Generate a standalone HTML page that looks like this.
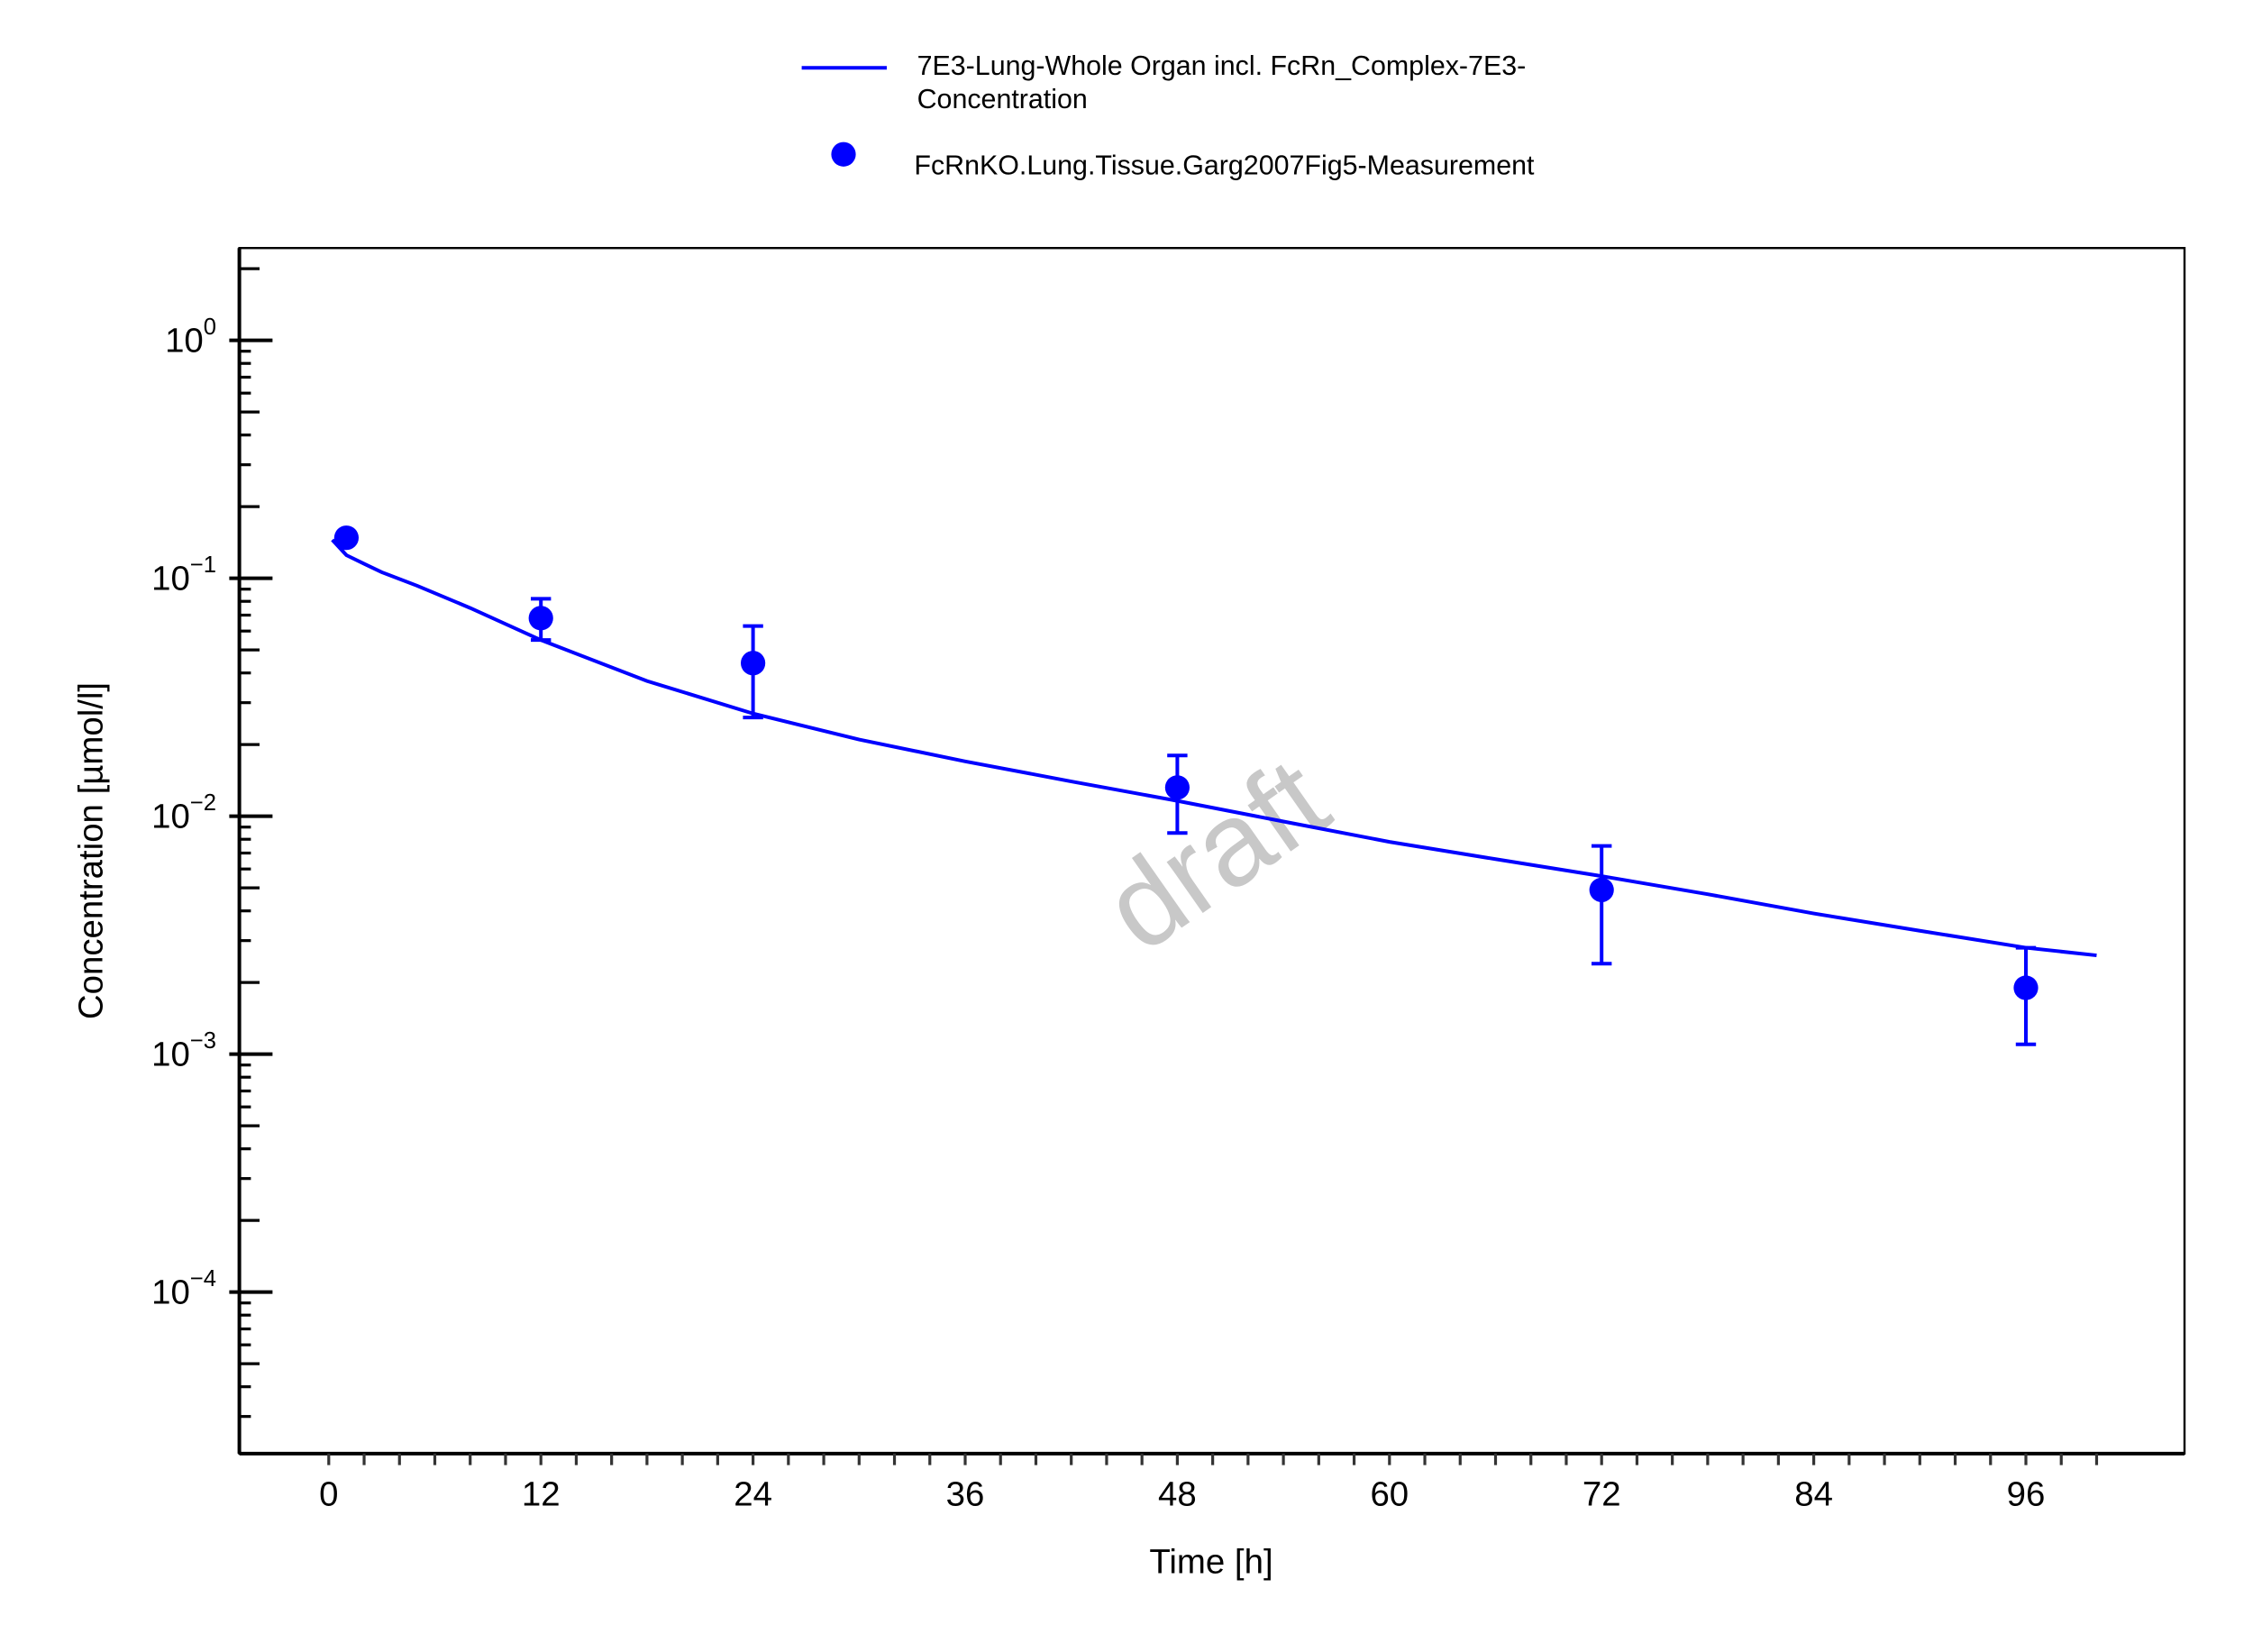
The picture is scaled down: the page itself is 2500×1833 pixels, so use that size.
<!DOCTYPE html>
<html><head><meta charset="utf-8"><style>
html,body{margin:0;padding:0;background:#fff}
svg{display:block;font-family:"Liberation Sans","DejaVu Sans",sans-serif}
</style></head><body>
<svg id="chart" width="2500" height="1833" viewBox="0 0 1562.5 1145.6" xmlns="http://www.w3.org/2000/svg">
<rect width="1562.5" height="1145.6" fill="#fff"/>
<g>
<line x1="556" y1="47" x2="615" y2="47" stroke="#0000ff" stroke-width="2.5"/>
<text x="636" y="52" font-size="19">7E3-Lung-Whole Organ incl. FcRn_Complex-7E3-</text>
<text x="636" y="75" font-size="19">Concentration</text>
<circle cx="585" cy="107" r="8.5" fill="#0000ff"/>
<text x="634" y="121" font-size="19">FcRnKO.Lung.Tissue.Garg2007Fig5-Measurement</text>
</g>
<text x="845" y="620" font-size="82" fill="#c8c8c8" text-anchor="middle" transform="rotate(-35 845 595)">draft</text>
<rect x="166" y="172" width="1349" height="836" fill="none" stroke="#000" stroke-width="1.5"/>
<line x1="166" y1="172" x2="166" y2="1008" stroke="#000" stroke-width="2.5"/>
<line x1="166" y1="1008" x2="1515" y2="1008" stroke="#000" stroke-width="2.5"/>
<g id="yticks"></g>
<g id="xticks"></g>
<g id="series"></g>
<text x="840" y="1091" font-size="24" text-anchor="middle">Time [h]</text>
<text x="0" y="0" font-size="24" text-anchor="middle" transform="translate(71 590) rotate(-90)">Concentration [µmol/l]</text>
</svg>
<script>
const simTime = [0.2,1,2,3,5,8,12,18,24,30,36,42,48,54,60,66,72,78,84,90,96,100];
const simConc = [0.145,0.125,0.115,0.106,0.093,0.075,0.055,0.037,0.027,0.021,0.017,0.014,0.0116,0.0095,0.0078,0.0066,0.0056,0.0047,0.0039,0.0033,0.0028,0.0026];
const obsTime = [1,12,24,48,72,96];
const obsConc = [0.148,0.068,0.044,0.0132,0.0049,0.0019];
const obsHigh = [null,0.082,0.063,0.018,0.0075,0.0028];
const obsLow = [null,0.055,0.026,0.0085,0.0024,0.0011];
const xTickLabels = [0,12,24,36,48,60,72,84,96];
const yDecades = [0,-1,-2,-3,-4];

const NS='http://www.w3.org/2000/svg';
const X0=228, PXH=(1405-228)/96;
const Y0=236, PXD=165;
const xs=t=>X0+t*PXH;
const ys=v=>Y0-Math.log10(v)*PXD;
function mk(tag,attrs,parent){const e=document.createElementNS(NS,tag);for(const k in attrs)e.setAttribute(k,attrs[k]);parent.appendChild(e);return e;}

const yg=document.getElementById('yticks');
for(let d=-5;d<=0;d++){
  for(let m=1;m<=9;m++){
    const v=m*Math.pow(10,d);const y=ys(v);
    if(y<172||y>1008)continue;
    let x1=166,x2=m===1?189:(m===2||m===5?180:174);
    if(m===1)x1=159;
    const l=mk('line',{x1:x1,y1:y,x2:x2,y2:y,stroke:'#000','stroke-width':m===1?2.5:2},yg);
    
    
  }
}
yDecades.forEach(d=>{
  const y=ys(Math.pow(10,d));
  const t=mk('text',{x:150,y:y+8,'font-size':24,'text-anchor':'end'},yg);
  
  
  t.textContent='10';
  const s=mk('tspan',{dy:-12,'font-size':16},t);
  s.textContent=d===0?'0':'\u2212'+(-d);
});
const xg=document.getElementById('xticks');
for(let h=0;h<=100;h+=2){
  const x=xs(h);
  const l=mk('line',{x1:x,y1:1008,x2:x,y2:1016,stroke:'#333','stroke-width':2},xg);
  
  
}
xTickLabels.forEach(h=>{
  const t=mk('text',{x:xs(h),y:1044,'font-size':24,'text-anchor':'middle'},xg);
  
  
  t.textContent=h;
});
const sg=document.getElementById('series');
let d='';
simTime.forEach((t,i)=>{d+=(i?'L':'M')+xs(t).toFixed(2)+' '+ys(simConc[i]).toFixed(2);});
const p=mk('path',{d:d,fill:'none',stroke:'#0000ff','stroke-width':2.5},sg);


obsTime.forEach((t,i)=>{
  const x=xs(t);
  if(obsHigh[i]!==null){
    const e=mk('path',{d:`M${x} ${ys(obsHigh[i])}V${ys(obsLow[i])}M${x-7} ${ys(obsHigh[i])}H${x+7}M${x-7} ${ys(obsLow[i])}H${x+7}`,stroke:'#0000ff','stroke-width':2.5,fill:'none'},sg);
    
    
  }
  const c=mk('circle',{cx:x,cy:ys(obsConc[i]),r:8.5,fill:'#0000ff'},sg);
  
  
});
</script>
</body></html>
